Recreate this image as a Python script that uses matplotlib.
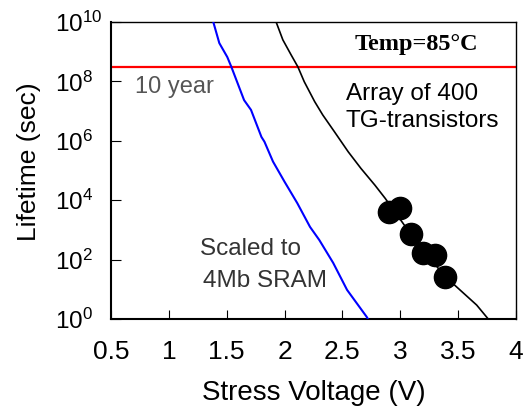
import matplotlib
matplotlib.use("Agg")
import matplotlib.pyplot as plt
import numpy as np

plt.rcParams['font.family'] = ['Liberation Sans', 'DejaVu Sans']
plt.rcParams['mathtext.fontset'] = 'custom'
plt.rcParams['mathtext.rm'] = 'Liberation Sans'
plt.rcParams['mathtext.default'] = 'regular'

# Data (stress voltage in V, log10 of lifetime in s)
sram_v = [1.384, 1.436, 1.505, 1.54, 1.65, 1.71, 1.80, 1.826, 1.90, 2.00, 2.11,
          2.22, 2.30, 2.42, 2.54, 2.71, 2.72]
sram_log = [10.0, 9.29, 8.82, 8.49, 7.37, 7.04, 6.13, 5.97, 5.30, 4.62, 3.90,
            3.10, 2.66, 1.89, 0.98, 0.07, 0.0]

tg_v = [1.927, 1.985, 2.057, 2.115, 2.17, 2.26, 2.33, 2.43, 2.55, 2.66, 2.78,
        2.87, 3.09, 3.34, 3.47, 3.66, 3.76]
tg_log = [10.0, 9.40, 8.89, 8.49, 7.99, 7.32, 6.87, 6.31, 5.63, 5.07, 4.51,
          4.06, 2.86, 1.65, 1.14, 0.47, 0.0]

meas_v = [2.90, 2.996, 3.09, 3.195, 3.30, 3.385]
meas_log = [3.60, 3.74, 2.86, 2.22, 2.15, 1.41]

ten_year = 3.15e8

xticks = [0.5, 1, 1.5, 2, 2.5, 3, 3.5, 4]
xticklabels = ['0.5', '1', '1.5', '2', '2.5', '3', '3.5', '4']
yexp = [0, 2, 4, 6, 8, 10]

W, H = 527, 409
fig = plt.figure(figsize=(W/100, H/100), dpi=100)
ax = fig.add_axes([111/W, 1-319/H, (516-111)/W, (319-22)/H])

ax.set_yscale('log')
ax.plot(sram_v, 10**np.array(sram_log), color='#0000ff', lw=1.5, zorder=3)
ax.plot(tg_v, 10**np.array(tg_log), color='black', lw=1.2, zorder=3)
ax.plot(meas_v, 10**np.array(meas_log), 'o', color='black', ms=16, zorder=4)
ax.axhline(ten_year, color='#ff0000', lw=1.6, zorder=2)

ax.set_xlim(0.5, 4)
ax.set_ylim(1, 1e10)
ax.set_xticks(xticks)
ax.set_xticklabels(xticklabels, fontsize=19)
ax.set_yticks([10.0**e for e in yexp])
ax.set_yticklabels([r'$\mathregular{10^{%d}}$' % e for e in yexp], fontsize=17.5)
ax.yaxis.set_minor_locator(matplotlib.ticker.NullLocator())
for lab in ax.get_yticklabels():
    lab.set_horizontalalignment('left')
ax.tick_params(axis='y', direction='in', length=7, width=0.8, pad=40, left=True, right=False)
ax.tick_params(axis='x', direction='in', length=6.5, width=0.8, pad=15, bottom=True, top=False)

for side in ['left', 'bottom']:
    ax.spines[side].set_linewidth(1.5)
for side in ['top', 'right']:
    ax.spines[side].set_linewidth(1.0)

ax.set_xlabel('Stress Voltage (V)', fontsize=20, labelpad=12)
ax.set_ylabel('Lifetime (sec)', fontsize=19)
ax.yaxis.set_label_coords((41-111)/405, (319-162)/297)

def ftext(x, y, s, **kw):
    ax.text(x/W, 1-y/H, s, transform=fig.transFigure, va='baseline', **kw)

ftext(135, 93, '10 year', fontsize=17, color='#555555', ha='left')
ftext(416, 50, 'Temp=85\u00b0C', fontsize=17.5, family=['Liberation Serif', 'DejaVu Serif'],
      fontweight='bold', ha='center')
ftext(346, 100, 'Array of 400', fontsize=17.5, color='black', ha='left')
ftext(346, 127, 'TG-transistors', fontsize=17.5, color='black', ha='left')
ftext(200, 255, 'Scaled to', fontsize=17.5, color='#333333', ha='left')
ftext(203, 287, '4Mb SRAM', fontsize=17.5, color='#333333', ha='left')

fig.savefig('out.png', dpi=100)
